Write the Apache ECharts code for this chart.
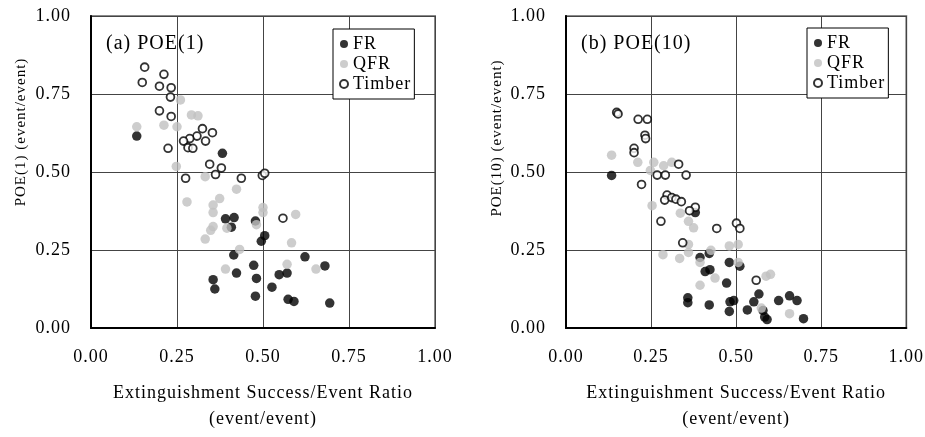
<!DOCTYPE html>
<html>
<head>
<meta charset="utf-8">
<script src="https://cdn.jsdelivr.net/npm/echarts@6/dist/echarts.min.js"></script>
<style>
html,body{margin:0;padding:0;background:#fff;}
#chart{width:925px;height:437px;}
</style>
</head>
<body>
<div id="chart"></div>
<script>
// ---- data (x = extinguishment success/event ratio, y = POE) ----
var frA = [[0.133,0.615],[0.382,0.560],[0.391,0.350],[0.416,0.354],[0.408,0.323],[0.478,0.343],[0.505,0.296],[0.495,0.278],[0.415,0.234],[0.473,0.201],[0.423,0.176],[0.481,0.159],[0.355,0.155],[0.360,0.125],[0.478,0.102],[0.622,0.228],[0.680,0.199],[0.547,0.171],[0.570,0.176],[0.526,0.131],[0.573,0.092],[0.590,0.085],[0.694,0.080]];
var qfrA = [[0.260,0.731],[0.292,0.683],[0.311,0.680],[0.133,0.645],[0.212,0.650],[0.250,0.645],[0.248,0.518],[0.332,0.485],[0.423,0.445],[0.279,0.404],[0.374,0.415],[0.355,0.394],[0.355,0.370],[0.355,0.325],[0.348,0.313],[0.332,0.285],[0.395,0.320],[0.432,0.252],[0.391,0.189],[0.481,0.331],[0.500,0.386],[0.500,0.370],[0.595,0.364],[0.583,0.273],[0.570,0.204],[0.654,0.189]];
var timberA = [[0.156,0.836],[0.149,0.787],[0.212,0.813],[0.199,0.775],[0.233,0.770],[0.231,0.740],[0.199,0.696],[0.233,0.678],[0.324,0.639],[0.353,0.626],[0.308,0.615],[0.287,0.607],[0.269,0.599],[0.333,0.599],[0.282,0.578],[0.296,0.576],[0.224,0.576],[0.345,0.525],[0.379,0.513],[0.275,0.480],[0.362,0.492],[0.437,0.480],[0.498,0.489],[0.505,0.496],[0.558,0.352]];

var frB = [[0.134,0.489],[0.380,0.370],[0.394,0.226],[0.421,0.239],[0.409,0.181],[0.423,0.187],[0.480,0.210],[0.472,0.144],[0.358,0.097],[0.358,0.081],[0.421,0.074],[0.482,0.084],[0.480,0.053],[0.511,0.198],[0.567,0.109],[0.493,0.088],[0.552,0.084],[0.533,0.058],[0.579,0.056],[0.584,0.035],[0.591,0.027],[0.625,0.088],[0.657,0.103],[0.679,0.088],[0.698,0.030]];
var qfrB = [[0.134,0.554],[0.211,0.531],[0.258,0.531],[0.287,0.520],[0.311,0.531],[0.248,0.505],[0.253,0.392],[0.336,0.368],[0.360,0.342],[0.375,0.321],[0.360,0.268],[0.360,0.242],[0.334,0.223],[0.285,0.235],[0.426,0.249],[0.394,0.210],[0.438,0.160],[0.394,0.137],[0.480,0.263],[0.506,0.268],[0.506,0.210],[0.588,0.166],[0.601,0.172],[0.574,0.064],[0.657,0.046]];
var timberB = [[0.149,0.691],[0.153,0.686],[0.212,0.669],[0.239,0.669],[0.232,0.618],[0.234,0.607],[0.200,0.576],[0.200,0.562],[0.331,0.525],[0.268,0.490],[0.292,0.490],[0.353,0.490],[0.222,0.460],[0.297,0.426],[0.290,0.410],[0.311,0.418],[0.323,0.413],[0.339,0.405],[0.380,0.387],[0.363,0.376],[0.279,0.342],[0.443,0.319],[0.343,0.273],[0.501,0.336],[0.511,0.319],[0.559,0.153]];

var seriesNames = ['FR', 'QFR', 'Timber'];
var axisMin = 0, axisMax = 1, axisStep = 0.25;
var panelLabels = ['(a) POE(1)', '(b) POE(10)'];
var yTitles = ['POE(1) (event/event)', 'POE(10) (event/event)'];
var xTitle = 'Extinguishment Success/Event Ratio\n(event/event)';

// ---- chart ----
var dom = document.getElementById('chart');
var chart = echarts.init(dom, null, {renderer: 'canvas'});

var FONT = '"Liberation Serif", "Times New Roman", serif';
var grids = [
  {left: 91, top: 16, width: 344, height: 317},
  {left: 566, top: 16, width: 344, height: 317}
];

function xAxisFor(i) {
  return {
    type: 'value', gridIndex: i, min: axisMin, max: axisMax, interval: axisStep,
    name: xTitle, nameLocation: 'middle', nameGap: 52,
    nameTextStyle: {fontFamily: FONT, fontSize: 18, color: '#000', lineHeight: 26},
    axisLine: {show: true, onZero: false, lineStyle: {color: '#000', width: 2}},
    axisTick: {show: false},
    axisLabel: {fontFamily: FONT, fontSize: 18, color: '#000', margin: 20,
      formatter: function (v) { return v.toFixed(2); }},
    splitLine: {show: true, lineStyle: {color: '#444', width: 1}}
  };
}
function yAxisFor(i) {
  return {
    type: 'value', gridIndex: i, min: axisMin, max: axisMax, interval: axisStep,
    axisLine: {show: true, onZero: false, lineStyle: {color: '#000', width: 2}},
    axisTick: {show: false},
    axisLabel: {fontFamily: FONT, fontSize: 18, color: '#000', margin: 20,
      formatter: function (v) { return v.toFixed(2); }},
    splitLine: {show: true, lineStyle: {color: '#444', width: 1}}
  };
}

var styles = {
  FR: {color: '#000000'},
  QFR: {color: '#c0c0c0'},
  Timber: {color: '#ffffff', borderColor: '#000000', borderWidth: 1.8}
};
function scatter(name, data, i) {
  return {
    name: name, type: 'scatter', xAxisIndex: i, yAxisIndex: i,
    data: data, symbol: 'circle', symbolSize: name === 'Timber' ? 7.8 : 9.5,
    itemStyle: styles[name], z: name === 'FR' ? 2 : (name === 'QFR' ? 3 : 4),
    silent: true
  };
}

function legendFor(left, top) {
  return {
    data: seriesNames, orient: 'vertical', left: left, top: top,
    icon: 'circle', itemWidth: 8, itemHeight: 8, itemTextGap: 10, itemGap: 2,
    padding: [6, 9, 6, 6],
    backgroundColor: '#fff', borderColor: '#000', borderWidth: 1,
    textStyle: {fontFamily: FONT, fontSize: 18, color: '#000', lineHeight: 18},
    selectedMode: false
  };
}

var option = {
  animation: false,
  backgroundColor: '#fff',
  grid: grids.map(function (g) {
    return Object.assign({show: true, borderColor: '#8a8a8a', borderWidth: 2, backgroundColor: 'transparent'}, g);
  }),
  xAxis: [xAxisFor(0), xAxisFor(1)],
  yAxis: [yAxisFor(0), yAxisFor(1)],
  legend: [legendFor(333, 29), legendFor(807, 28)],
  series: [
    scatter('FR', frA, 0), scatter('QFR', qfrA, 0), scatter('Timber', timberA, 0),
    scatter('FR', frB, 1), scatter('QFR', qfrB, 1), scatter('Timber', timberB, 1)
  ],
  graphic: [
    {type: 'text', x: 106, y: 44, z: 100, style: {text: panelLabels[0], fontFamily: FONT, fontSize: 20, fill: '#000', textVerticalAlign: 'middle'}},
    {type: 'text', x: 581, y: 44, z: 100, style: {text: panelLabels[1], fontFamily: FONT, fontSize: 20, fill: '#000', textVerticalAlign: 'middle'}},
    {type: 'text', x: 21, y: 132, rotation: Math.PI / 2, z: 100, style: {text: yTitles[0], fontFamily: FONT, fontSize: 15, fill: '#000', textAlign: 'center', textVerticalAlign: 'middle'}},
    {type: 'text', x: 497, y: 138, rotation: Math.PI / 2, z: 100, style: {text: yTitles[1], fontFamily: FONT, fontSize: 15, fill: '#000', textAlign: 'center', textVerticalAlign: 'middle'}}
  ]
};
chart.setOption(option);

// the reference typesetting is slightly letter-spaced; apply it to the canvas text state
try {
  var zr = chart.getZr();
  zr.refreshImmediately();
  var layers = zr.painter.getLayers ? zr.painter.getLayers() : {};
  var done = false;
  Object.keys(layers).forEach(function (k) {
    var ctx = layers[k].ctx;
    if (ctx && 'letterSpacing' in ctx) { ctx.letterSpacing = '1px'; done = true; }
  });
  if (done) { zr.painter.refresh(true); }
} catch (e) {}
</script>
</body>
</html>
